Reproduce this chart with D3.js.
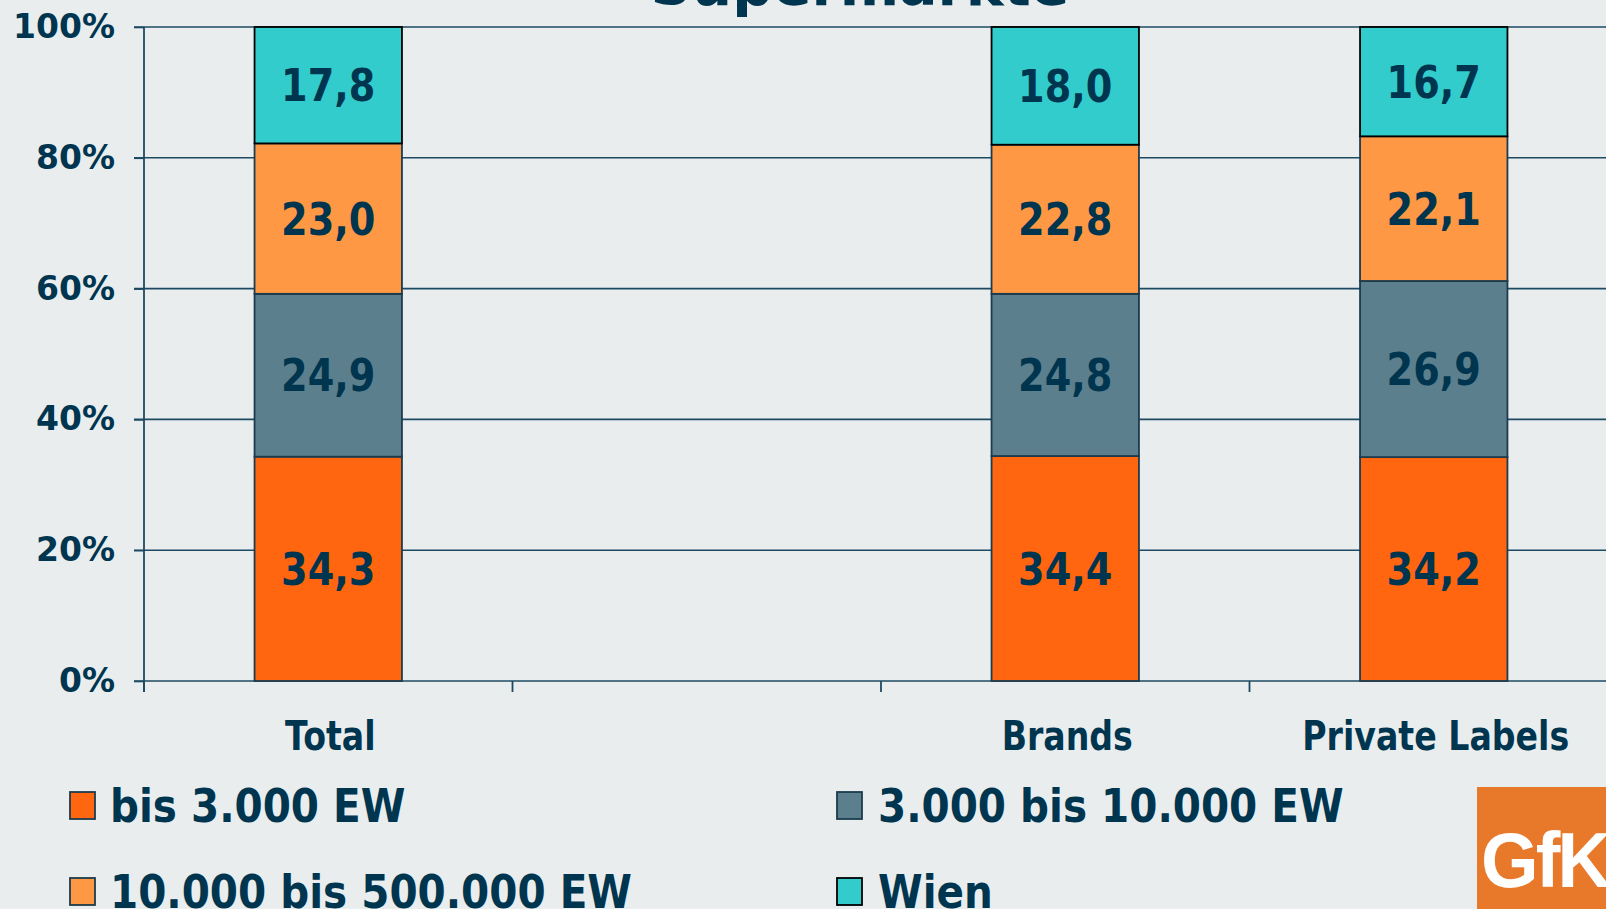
<!DOCTYPE html>
<html>
<head>
<meta charset="utf-8">
<script src="https://cdn.jsdelivr.net/npm/d3@7"></script>
<style>
  html, body { margin: 0; padding: 0; background: #E9EDEE; }
  svg { display: block; }
  text { font-family: "DejaVu Sans", Verdana, sans-serif; font-weight: bold; fill: #00354F; }
</style>
</head>
<body>
<svg id="chart" width="1606" height="909"></svg>
<script>
// Axis slots (the second slot is left empty on purpose)
const categories = ["Total", "", "Brands", "Private Labels"];
const barCategories = ["Total", "Brands", "Private Labels"];

// Series, stacked from the bottom up
const seriesNames = ["bis 3.000 EW", "3.000 bis 10.000 EW", "10.000 bis 500.000 EW", "Wien"];
const bis3000 = [34.3, 34.4, 34.2];
const bis10000 = [24.9, 24.8, 26.9];
const bis500000 = [23.0, 22.8, 22.1];
const wien = [17.8, 18.0, 16.7];

const yTicks = [0, 0.2, 0.4, 0.6, 0.8, 1.0];
const titleText = "Supermärkte";

const colors = ["#FF660F", "#5B7F8C", "#FF9844", "#33CCCC"];
const strokes = ["#1C3B4D", "#1C3B4D", "#1C3B4D", "#000000"];
const navy = "#00354F";

const svg = d3.select("#chart");
const W = 1606, H = 909;

const rows = barCategories.map((c, i) => ({
  cat: c,
  [seriesNames[0]]: bis3000[i],
  [seriesNames[1]]: bis10000[i],
  [seriesNames[2]]: bis500000[i],
  [seriesNames[3]]: wien[i]
}));

const stacked = d3.stack().keys(seriesNames).offset(d3.stackOffsetExpand)(rows);

const x = d3.scaleBand()
  .domain(categories)
  .range([144, 144 + 4 * 368.5])
  .paddingInner(0.6)
  .paddingOuter(0.3);

const y = d3.scaleLinear().domain([0, 1]).range([681, 27]);

const deFmt = d3.formatLocale({ decimal: ",", thousands: ".", grouping: [3], currency: ["", "€"] }).format(".1f");

// helper: horizontally condensed text
function sText(parent, tx, ty, str, size, sx, anchor) {
  const g = parent.append("g").attr("transform", `translate(${tx},${ty})`);
  return g.append("text")
    .attr("transform", `scale(${sx},1)`)
    .attr("text-anchor", anchor || "middle")
    .style("font-size", size + "px")
    .text(str);
}

// title (runs off the top edge)
sText(svg, 860, 5, titleText, 57, 1.0, "middle");

// gridlines
svg.append("g").selectAll("line").data(yTicks).join("line")
  .attr("x1", 134).attr("x2", W)
  .attr("y1", d => y(d)).attr("y2", d => y(d))
  .attr("stroke", "#1D4A62").attr("stroke-width", 1.6);

// y axis
const yAxis = svg.append("g").attr("transform", "translate(144,0)")
  .call(d3.axisLeft(y).tickValues(yTicks).tickFormat(d3.format(".0%")).tickSizeInner(10).tickSizeOuter(0).tickPadding(19));
yAxis.select(".domain").remove();
yAxis.selectAll(".tick line").attr("stroke", "#1D4A62").attr("stroke-width", 1.6);
yAxis.selectAll(".tick text")
  .style("font-size", "33px")
  .style("font-family", "'DejaVu Sans', Verdana, sans-serif")
  .style("font-weight", "bold")
  .attr("fill", navy);

svg.append("line")
  .attr("x1", 144).attr("x2", 144)
  .attr("y1", y(1)).attr("y2", y(0) + 11)
  .attr("stroke", "#1D4A62").attr("stroke-width", 1.8);

// x tick marks at slot boundaries
const step = x.step();
const bounds = categories.map(c => x(c) - x.paddingInner() * step / 2);
bounds.push(bounds[bounds.length - 1] + step);
svg.append("g").selectAll("line").data(bounds).join("line")
  .attr("x1", d => d).attr("x2", d => d)
  .attr("y1", y(0)).attr("y2", y(0) + 11)
  .attr("stroke", "#1D4A62").attr("stroke-width", 1.8);

// category labels
const xl = svg.append("g");
categories.forEach(c => {
  if (c) sText(xl, x(c) + x.bandwidth() / 2 + 2, 750, c, 40, 0.83, "middle");
});

// stacked bars
stacked.forEach((layer, si) => {
  const g = svg.append("g");
  g.selectAll("rect").data(layer).join("rect")
    .attr("x", d => x(d.data.cat))
    .attr("width", x.bandwidth())
    .attr("y", d => y(d[1]))
    .attr("height", d => y(d[0]) - y(d[1]))
    .attr("fill", colors[si])
    .attr("stroke", strokes[si])
    .attr("stroke-width", 1.8);
});

// value labels
stacked.forEach((layer) => {
  layer.forEach(d => {
    const cx = x(d.data.cat) + x.bandwidth() / 2;
    const cy = (y(d[0]) + y(d[1])) / 2;
    sText(svg, cx, cy, deFmt(d.data[layer.key]), 45, 0.85, "middle").attr("dy", "0.36em");
  });
});

// legend
const legendPos = [
  { sx: 70, sy: 792, tx: 110, ty: 822 },
  { sx: 837, sy: 792, tx: 878, ty: 822 },
  { sx: 70, sy: 878, tx: 110, ty: 908 },
  { sx: 837, sy: 878, tx: 878, ty: 908 }
];
const lg = svg.append("g");
seriesNames.forEach((name, i) => {
  const p = legendPos[i];
  lg.append("rect")
    .attr("x", p.sx).attr("y", p.sy).attr("width", 25).attr("height", 27)
    .attr("fill", colors[i]).attr("stroke", strokes[i]).attr("stroke-width", 1.8);
  sText(lg, p.tx, p.ty, name, 46, 0.88, "start");
});

// GfK logo
svg.append("rect").attr("x", 1477).attr("y", 787).attr("width", 140).attr("height", 130).attr("fill", "#E8792A");
const logo = svg.append("g").attr("transform", "translate(1481,887)");
logo.append("text")
  .attr("transform", "scale(0.95,1)")
  .style("font-family", "'Liberation Sans', Arial, sans-serif")
  .style("font-size", "78px")
  .style("font-weight", "bold")
  .style("letter-spacing", "-3px")
  .style("fill", "#FFFFFF")
  .text("GfK");
</script>
</body>
</html>
